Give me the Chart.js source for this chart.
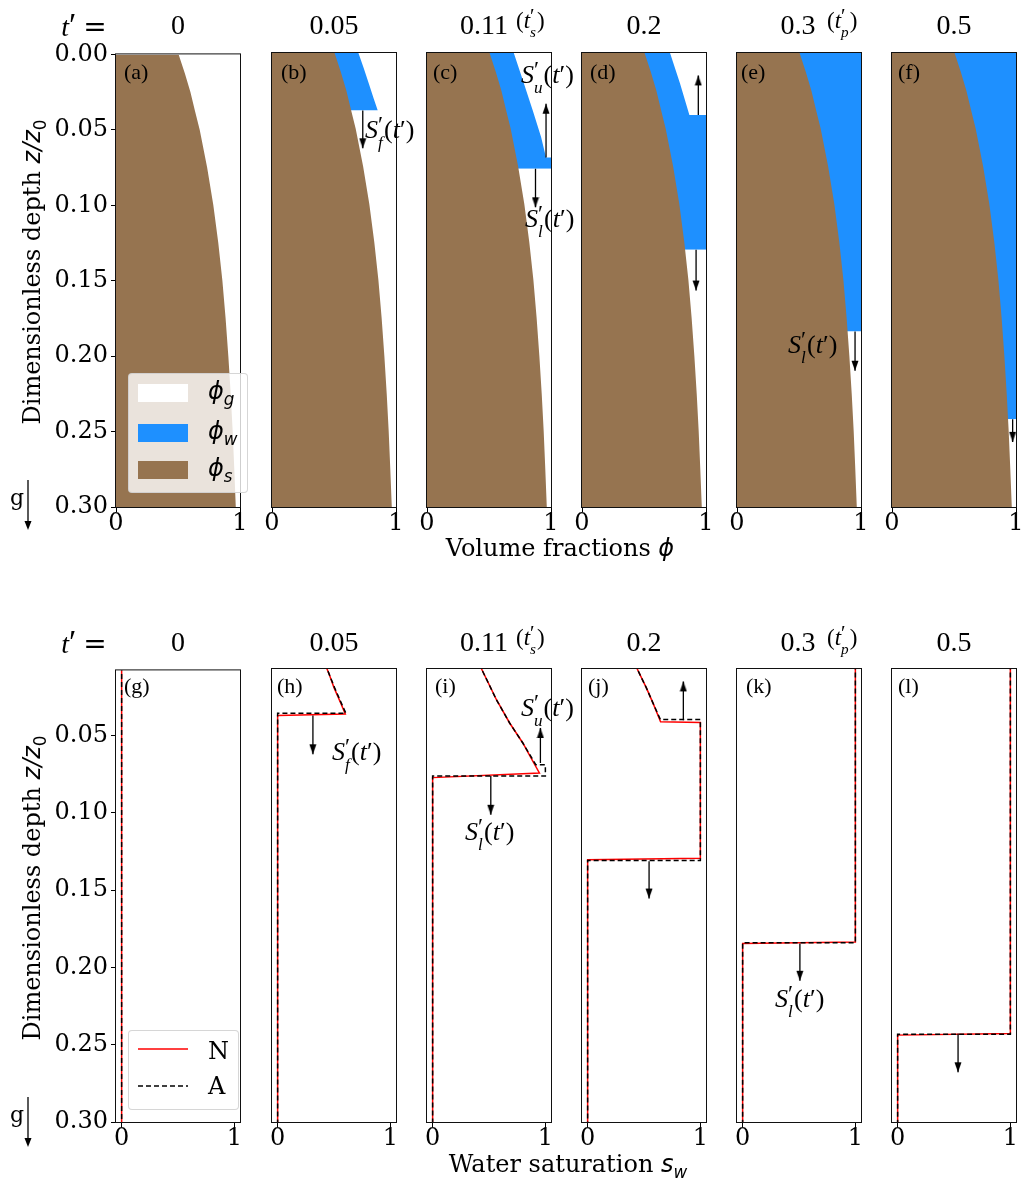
<!DOCTYPE html>
<html>
<head>
<meta charset="utf-8">
<script src="https://cdn.jsdelivr.net/npm/chart.js@4.4.1/dist/chart.umd.min.js"></script>
<style>
  body { margin: 0; background: #fff; width: 1023px; height: 1186px; overflow: hidden; font-family: 'Liberation Serif', serif; color: #000; }
  canvas { position: absolute; }
  .t { position: absolute; white-space: nowrap; line-height: 1; }
  .title { font-size: 28px; transform: translate(-50%, -50%); }
  .sfx { font-size: 23px; transform: translateY(-50%); }
  .note { font-size: 26px; transform: translateY(-50%); }
  .tag { font-size: 22px; transform: translateY(-50%); }
  .math { font-family: 'DejaVu Sans', sans-serif; font-style: oblique; }
  .stack { display: inline-block; vertical-align: middle; font-size: 0.66em; line-height: 0.9; text-align: left; margin-right: 1px; }
  .stack .pr { font-size: 1.35em; }
  .axlab { font-family: 'DejaVu Serif', serif; font-size: 24px; }
  .legend { position: absolute; background: rgba(255,255,255,0.8); border: 1px solid rgba(204,204,204,0.8); border-radius: 4px; box-sizing: border-box; }
</style>
</head>
<body>
<script>
// depth below the surface, z/z0, and the solid volume fraction there
const solidDepth = [0, 0.0125, 0.025, 0.0375, 0.05, 0.075, 0.1, 0.125, 0.15, 0.175, 0.2, 0.225, 0.25, 0.275, 0.3];
const solidFrac  = [0.505, 0.555, 0.60, 0.637, 0.675, 0.735, 0.785, 0.825, 0.858, 0.884, 0.906, 0.925, 0.941, 0.954, 0.966];

const times = ['0', '0.05', '0.11', '0.2', '0.3', '0.5'];
const timeNotes = ['', '', 's', '', 'p', ''];

// outer edge of the water band (phi_s + phi_w) at each time
const wetDepth = [
  [],
  [0, 0.01, 0.02, 0.03, 0.038],
  [0, 0.018, 0.038, 0.0555, 0.069, 0.069, 0.0765],
  [0, 0.02, 0.041, 0.041, 0.130],
  [0, 0.184],
  [0, 0.242]
];
const wetEdge = [
  [],
  [0.697, 0.74, 0.78, 0.82, 0.853],
  [0.70, 0.773, 0.853, 0.92, 0.96, 1, 1],
  [0.71, 0.79, 0.866, 1, 1],
  [1, 1],
  [1, 1]
];

// water saturation, numerical (N)
const satDepthN = [
  [0, 0.3],
  [0, 0.01, 0.02, 0.03, 0.037, 0.038, 0.3],
  [0, 0.008, 0.0278, 0.0428, 0.0557, 0.065, 0.075, 0.078, 0.3],
  [0, 0.008, 0.02, 0.03, 0.042, 0.0425, 0.130, 0.131, 0.3],
  [0, 0.184, 0.185, 0.3],
  [0, 0.243, 0.244, 0.3]
];
const satN = [
  [0, 0],
  [0.39, 0.45, 0.50, 0.56, 0.60, 0, 0],
  [0.38, 0.434, 0.566, 0.683, 0.80, 0.87, 0.947, 0, 0],
  [0.39, 0.44, 0.52, 0.58, 0.647, 1, 1, 0, 0],
  [1, 1, 0, 0],
  [1, 1, 0, 0]
];
// water saturation, analytical (A)
const satDepthA = [
  [0, 0.3],
  [0, 0.01, 0.02, 0.03, 0.0365, 0.0365, 0.3],
  [0, 0.008, 0.0278, 0.0428, 0.0557, 0.0697, 0.0697, 0.077, 0.077, 0.3],
  [0, 0.008, 0.02, 0.03, 0.0405, 0.0405, 0.1315, 0.1315, 0.3],
  [0, 0.1845, 0.1845, 0.3],
  [0, 0.2435, 0.2435, 0.3]
];
const satA = [
  [0, 0],
  [0.39, 0.45, 0.505, 0.565, 0.605, 0, 0],
  [0.38, 0.434, 0.566, 0.683, 0.80, 0.915, 1, 1, 0, 0],
  [0.39, 0.44, 0.52, 0.58, 0.645, 1, 1, 0, 0],
  [1, 1, 0, 0],
  [1, 1, 0, 0]
];

// front arrows: [panel, x, z from, z to]
const topArrows = [
  [1, 0.732, 0.038, 0.063],
  [2, 0.96, 0.069, 0.0335], [2, 0.875, 0.0765, 0.102],
  [3, 0.938, 0.041, 0.0148], [3, 0.92, 0.130, 0.157],
  [4, 0.952, 0.184, 0.21],
  [5, 0.973, 0.242, 0.257]
];
const bottomArrows = [
  [1, 0.313, 0.038, 0.063],
  [2, 0.956, 0.0686, 0.046], [2, 0.516, 0.077, 0.102],
  [3, 0.849, 0.041, 0.016], [3, 0.545, 0.132, 0.156],
  [4, 0.508, 0.185, 0.209],
  [5, 0.536, 0.243, 0.268]
];

const topTicks = [0, 0.05, 0.1, 0.15, 0.2, 0.25, 0.3];
const bottomTicks = [0.05, 0.1, 0.15, 0.2, 0.25, 0.3];

const BROWN = 'rgb(150,116,80)';
const BLUE = 'rgb(30,144,255)';

Chart.defaults.font.family = 'DejaVu Serif';
Chart.defaults.font.size = 24;
Chart.defaults.color = '#000';

const colLeft = [116, 272, 427, 582, 737, 892];
const plotW = 124;
const rows = [{top: 53, h: 454}, {top: 669, h: 453}];

const frame = {
  id: 'frame',
  afterDraw(c) {
    const a = c.chartArea, g = c.ctx;
    g.save();
    g.strokeStyle = '#111';
    g.lineWidth = 1;
    g.strokeRect(a.left - 0.5, a.top - 0.5, a.right - a.left + 1, a.bottom - a.top + 1);
    g.restore();
  }
};

function arrowHead() {
  const c = document.createElement('canvas');
  c.width = 8; c.height = 22;
  const g = c.getContext('2d');
  g.fillStyle = '#000';
  g.beginPath();
  g.moveTo(4, 11); g.lineTo(7.5, 21); g.lineTo(0.5, 21);
  g.closePath(); g.fill();
  return c;
}
const head = arrowHead();

function pts(xs, zs) {
  return xs.map((v, i) => ({x: v, y: zs[i]}));
}

function arrowSets(list, col) {
  return list.filter(a => a[0] === col).map(a => ({
    data: [{x: a[1], y: a[2]}, {x: a[1], y: a[3]}],
    borderColor: '#000', borderWidth: 1.3, fill: false,
    pointRadius: [0, 5], pointStyle: head, pointRotation: a[3] > a[2] ? 180 : 0,
    order: -1
  }));
}

function makePanel(row, col, datasets, xr, yr, yTicks) {
  const ML = col === 0 ? 116 : 14, MR = 14, MT = 16, MB = 44;
  const w = ML + plotW + MR, h = MT + rows[row].h + MB;
  const cv = document.createElement('canvas');
  cv.width = w; cv.height = h;
  cv.style.left = (colLeft[col] - ML) + 'px';
  cv.style.top = (rows[row].top - MT) + 'px';
  cv.style.width = w + 'px';
  cv.style.height = h + 'px';
  document.body.appendChild(cv);
  new Chart(cv, {
    type: 'line',
    data: {datasets},
    options: {
      indexAxis: 'y',
      responsive: false,
      animation: false,
      devicePixelRatio: 1,
      events: [],
      layout: {padding: {left: 0, right: MR, top: MT, bottom: 0}},
      plugins: {legend: {display: false}, tooltip: {enabled: false}},
      elements: {point: {radius: 0}, line: {tension: 0}},
      scales: {
        x: {
          type: 'linear', min: xr[0], max: xr[1],
          afterBuildTicks: s => { s.ticks = [{value: 0}, {value: 1}]; },
          afterFit: s => { s.height = MB; },
          ticks: {padding: -3, autoSkip: false, maxRotation: 0, callback: v => String(v)},
          grid: {drawOnChartArea: false, color: '#000', tickLength: 5},
          border: {display: false}
        },
        y: {
          type: 'linear', reverse: true, min: yr[0], max: yr[1],
          afterBuildTicks: s => { s.ticks = yTicks.map(v => ({value: v})); },
          afterFit: s => { s.width = ML; },
          ticks: {display: col === 0, padding: 3, autoSkip: false, callback: v => v.toFixed(2)},
          grid: {drawOnChartArea: false, drawTicks: col === 0, color: '#000', tickLength: 5},
          border: {display: false}
        }
      }
    },
    plugins: [frame]
  });
}

// top row: volume fractions
times.forEach((t, i) => {
  const ds = [{data: pts(solidFrac, solidDepth), backgroundColor: BROWN, borderWidth: 0, fill: 'origin', order: 0}];
  if (wetDepth[i].length) {
    ds.push({data: pts(wetEdge[i], wetDepth[i]), backgroundColor: BLUE, borderWidth: 0, fill: 'origin', order: 1});
  }
  makePanel(0, i, ds.concat(arrowSets(topArrows, i)), [0, 1], [0, 0.3], topTicks);
});

// bottom row: water saturation
times.forEach((t, i) => {
  const ds = [
    {data: pts(satA[i], satDepthA[i]), borderColor: '#000', borderWidth: 1.5, borderDash: [5, 3], fill: false, order: 0},
    {data: pts(satN[i], satDepthN[i]), borderColor: 'rgb(255,0,0)', borderWidth: 1.5, fill: false, order: 1}
  ];
  makePanel(1, i, ds.concat(arrowSets(bottomArrows, i)), [-0.05, 1.05], [0.008, 0.3], bottomTicks);
});

// text overlays
function put(cls, x, y, html) {
  const d = document.createElement('div');
  d.className = 't ' + cls;
  d.style.left = x + 'px';
  d.style.top = y + 'px';
  d.innerHTML = html;
  document.body.appendChild(d);
  return d;
}

const tPrime = '<i>t</i>′';
const titleShift = [0, 0, -5, 0, -1, 0];
[25, 642].forEach(y => {
  put('title', 84, y, '<i>t</i><span style="font-size:1.2em">′</span>&nbsp;<span style="font-family:DejaVu Serif">=</span>');
  times.forEach((t, i) => {
    const cx = colLeft[i] + plotW / 2;
    put('title', cx + titleShift[i], y, t);
    if (timeNotes[i]) {
      put('sfx', cx + (i === 2 ? 27 : 28), y - 2,
        '(<i>t</i><span class="stack"><span class="pr">′</span><br><i>' + timeNotes[i] + '</i></span>)');
    }
  });
});

const letters = ['(a)', '(b)', '(c)', '(d)', '(e)', '(f)', '(g)', '(h)', '(i)', '(j)', '(k)', '(l)'];
const letterDx = [8, 9, 6, 8, 4, 6, 8, 5, 8, 6, 9, 6];
letters.forEach((l, k) => {
  const row = k < 6 ? 0 : 1, col = k % 6;
  put('tag', colLeft[col] + letterDx[k], rows[row].top + (row ? 17 : 18.5), l);
});

function front(sub) {
  return '<i>S</i><span class="stack"><span class="pr">′</span><br><i>' + sub + '</i></span>(' + tPrime + ')';
}
[[365, 132, 'f'], [521, 77, 'u'], [525, 221, 'l'], [788, 347, 'l'],
 [332, 754, 'f'], [521, 710, 'u'], [465, 834, 'l'], [775, 1001, 'l']].forEach(n => put('note', n[0], n[1], front(n[2])));

// axis labels
const yLab = 'Dimensionless depth <span class="math">z</span><span class="math">/z</span><sub style="font-family:DejaVu Sans;font-size:0.7em">0</sub>';
[272, 888].forEach(cy => {
  const d = put('axlab', 34, cy, yLab);
  d.style.transform = 'translate(-50%, -50%) rotate(-90deg)';
});
put('axlab', 560, 548, 'Volume fractions <span class="math">ϕ</span>').style.transform = 'translate(-50%, -50%)';
put('axlab', 568, 1166, 'Water saturation <span class="math">s</span><sub class="math" style="font-size:0.7em">w</sub>').style.transform = 'translate(-50%, -50%)';

// gravity marks
[[480, 498], [1097, 1115]].forEach(g => {
  put('tag', 10, g[1], 'g').style.fontFamily = 'DejaVu Serif';
  const s = document.createElementNS('http://www.w3.org/2000/svg', 'svg');
  s.setAttribute('width', '12'); s.setAttribute('height', '54');
  s.style.position = 'absolute'; s.style.left = '22px'; s.style.top = g[0] + 'px';
  s.innerHTML = '<line x1="6" y1="0" x2="6" y2="44" stroke="#000" stroke-width="1.3"/><polygon points="2.5,41 9.5,41 6,50" fill="#000"/>';
  document.body.appendChild(s);
});

// legends
function legendBox(x, y, w, h) {
  const d = document.createElement('div');
  d.className = 'legend';
  d.style.left = x + 'px'; d.style.top = y + 'px';
  d.style.width = w + 'px'; d.style.height = h + 'px';
  document.body.appendChild(d);
}
legendBox(128, 373, 120, 120);
[[393, '#fff', 'g'], [433, BLUE, 'w'], [470, BROWN, 's']].forEach(e => {
  const p = document.createElement('div');
  p.style.cssText = 'position:absolute;left:138px;width:50px;height:18px;top:' + (e[0] - 9) + 'px;background:' + e[1];
  document.body.appendChild(p);
  put('axlab', 208, e[0], '<span class="math">ϕ</span><sub class="math" style="font-size:0.7em">' + e[2] + '</sub>').style.transform = 'translateY(-50%)';
});
legendBox(128, 1030, 111, 80);
const sw = document.createElementNS('http://www.w3.org/2000/svg', 'svg');
sw.setAttribute('width', '60'); sw.setAttribute('height', '60');
sw.style.position = 'absolute'; sw.style.left = '136px'; sw.style.top = '1040px';
sw.innerHTML = '<line x1="2" y1="9" x2="52" y2="9" stroke="rgb(255,0,0)" stroke-width="1.5"/>' +
  '<line x1="2" y1="46" x2="52" y2="46" stroke="#000" stroke-width="1.5" stroke-dasharray="5,3"/>';
document.body.appendChild(sw);
put('axlab', 208, 1051, 'N').style.transform = 'translateY(-50%)';
put('axlab', 208, 1086, 'A').style.transform = 'translateY(-50%)';
</script>
</body>
</html>
